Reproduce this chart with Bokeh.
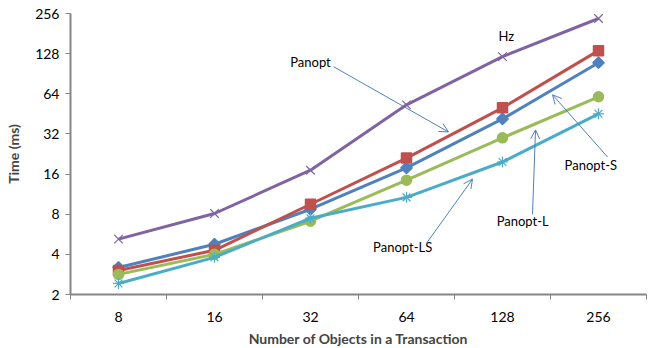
import math
from bokeh.plotting import figure
from bokeh.models import (Range1d, FixedTicker, Label, Arrow, OpenHead, ColumnDataSource)
from bokeh.embed import file_html
from bokeh.resources import INLINE

# Transaction sizes (number of objects) and measured times in ms
categories = ["8", "16", "32", "64", "128", "256"]
hz = [5.2, 8.1, 17.1, 52.9, 121.5, 234.8]
panopt = [3.03, 4.29, 9.5, 21.1, 50.2, 134.8]
panopt_s = [3.19, 4.76, 8.72, 17.8, 41.5, 109.5]
panopt_l = [2.83, 4.0, 7.09, 14.4, 29.9, 60.8]
panopt_ls = [2.42, 3.8, 7.46, 10.7, 19.7, 45.3]
y_ticks = [2, 4, 8, 16, 32, 64, 128, 256]

BLUE = "#4F81BD"
RED = "#C0504D"
GREEN = "#9BBB59"
PURPLE = "#8064A2"
CYAN = "#4BACC6"
AXIS = "#868686"
FONT = "Lato"

xs = list(range(len(categories)))

p = figure(frame_width=576, frame_height=281, output_backend="svg", toolbar_location=None,
           y_axis_type="log", x_range=Range1d(-0.5, len(categories) - 0.5),
           y_range=Range1d(2, 256), min_border_left=70, min_border_right=8,
           min_border_top=13, min_border_bottom=54)
p.outline_line_color = None
p.xgrid.visible = False
p.ygrid.visible = False

# y axis: powers of two
ya = p.yaxis[0]
ya.ticker = FixedTicker(ticks=y_ticks, minor_ticks=[])
ya.major_label_overrides = {v: str(v) for v in y_ticks}
ya.axis_line_color = AXIS
ya.axis_line_width = 2
ya.major_tick_line_color = AXIS
ya.major_tick_in = 0
ya.major_tick_out = 5
ya.major_label_text_font = FONT
ya.major_label_text_font_size = "14px"
ya.major_label_text_color = "black"
ya.major_label_standoff = 6
ya.axis_label = "Time (ms)"
ya.axis_label_text_font = FONT
ya.axis_label_text_font_style = "bold"
ya.axis_label_text_font_size = "14px"
ya.axis_label_standoff = 10

# x axis: labels at category centres, tick marks on the boundaries
xa = p.xaxis[0]
xa.ticker = FixedTicker(ticks=xs, minor_ticks=[i - 0.5 for i in range(len(categories) + 1)])
xa.major_label_overrides = {i: c for i, c in enumerate(categories)}
xa.axis_line_color = AXIS
xa.axis_line_width = 2
xa.major_tick_in = 0
xa.major_tick_out = 0
xa.minor_tick_line_color = AXIS
xa.minor_tick_in = 0
xa.minor_tick_out = 5
xa.major_label_text_font = FONT
xa.major_label_text_font_size = "14px"
xa.major_label_text_color = "black"
xa.major_label_standoff = 12
xa.axis_label = "Number of Objects in a Transaction"
xa.axis_label_text_font = FONT
xa.axis_label_text_font_style = "bold"
xa.axis_label_text_font_size = "14px"
xa.axis_label_standoff = 5

# (values, colour, marker, size, marker outline width, marker angle)
series = [
    (panopt_s, BLUE, "square", 8, 1.5, math.pi / 4),
    (panopt, RED, "square", 10, 1.5, 0),
    (panopt_l, GREEN, "circle", 10, 1.5, 0),
    (hz, PURPLE, "x", 12, 1.2, 0),
    (panopt_ls, CYAN, "asterisk", 11, 1.2, 0),
]
for vals, color, marker, size, mlw, ang in series:
    src = ColumnDataSource(dict(x=xs, y=vals))
    p.line("x", "y", source=src, line_color=color, line_width=3)
    p.scatter("x", "y", source=src, marker=marker, size=size, angle=ang,
              fill_color=color, line_color=color, line_width=mlw)

# series name callouts
labels = [
    ("Hz", 4.04, 175),
    ("Panopt", 2.0, 111),
    ("Panopt-S", 4.92, 18.7),
    ("Panopt-L", 4.21, 7.09),
    ("Panopt-LS", 2.96, 4.52),
]
for txt, lx, ly in labels:
    p.add_layout(Label(x=lx, y=ly, text=txt, text_font=FONT, text_font_size="13px",
                       text_align="center", text_baseline="middle", text_color="black"))

arrows = [
    (2.24, 102.2, 3.4375, 33.1),
    (5.094, 21.5, 4.521, 62.9),
    (4.3125, 8.0, 4.344, 34.3),
    (3.208, 4.84, 3.6875, 14.67),
]
for x0, y0, x1, y1 in arrows:
    p.add_layout(Arrow(x_start=x0, y_start=y0, x_end=x1, y_end=y1,
                       line_color=BLUE, line_width=1,
                       end=OpenHead(size=9, line_color=BLUE, line_width=1)))

open("out.html", "w").write(file_html(p, INLINE))
